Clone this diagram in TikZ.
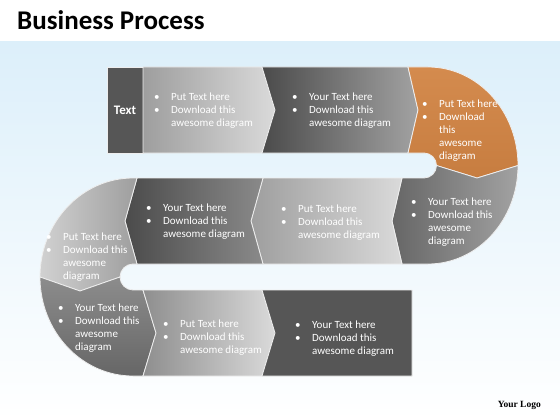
\documentclass[tikz,border=0pt]{standalone}
\usepackage{fontspec}
\setmainfont{Carlito}
\newfontfamily\logofont{Liberation Serif}
\usetikzlibrary{positioning}
\definecolor{skyband}{HTML}{DCEFFA}
\definecolor{segedge}{HTML}{EEEEEE}
\definecolor{boxgrey}{HTML}{565656}
\definecolor{greylo}{HTML}{9E9E9E}
\definecolor{greyhi}{HTML}{DADADA}
\definecolor{darklo}{HTML}{4B4B4B}
\definecolor{darkhi}{HTML}{A2A2A2}
\definecolor{orangehi}{HTML}{D48B4E}
\definecolor{orangelo}{HTML}{C77D40}
\newcommand{\blist}[1]{\begin{tabular}{@{}p{17pt}@{}l@{}}#1\end{tabular}}

\begin{document}
\begin{tikzpicture}[
      x=1pt, y=-1pt,
      seg/.style={
        draw=segedge,
        line width=0.8pt,
        line join=round,
      },
      txt/.style={
        anchor=north west,
        inner sep=0pt,
        text=white,
        font=\fontsize{11}{13}\selectfont,
      }]
      \useasboundingbox (0,0) rectangle (560,420);
      \fill[white] (0,0) rectangle (560,42);
      \shade[top color=skyband, bottom color=white] (0,42) rectangle (560,420);
      \node[anchor=base west, inner sep=0pt, font=\bfseries\fontsize{27}{30}\selectfont] (title) at (17,30) {Business Process};
      % top row
      \filldraw[seg, fill=boxgrey] (107,67) rectangle (143,153);
      \shade[seg, left color=greylo, right color=greyhi] (143,67) -- (262,67) -- (275,110) -- (262,153) -- (143,153) -- cycle;
      \shade[seg, left color=darklo, right color=darkhi] (262,67) -- (408,67) -- (418,110) -- (408,153) -- (262,153) -- (275,110) -- cycle;
      \shade[seg, top color=orangehi, bottom color=orangelo] (408,67) -- (418,110) -- (408,153) -- (424,153)
        arc[start angle=-90, end angle=0, radius=12.5] -- (477,178) -- (518,165.5)
        arc[start angle=0, end angle=-90, x radius=90, y radius=98.5] -- cycle;
      % middle row
      \shade[seg, left color=darklo!85!white, right color=darkhi] (402,178) -- (392,221) -- (402,264) -- (428,264)
        arc[start angle=90, end angle=0, x radius=90, y radius=98.5] -- (477,178) -- (436.5,165.5)
        arc[start angle=0, end angle=90, radius=12.5] -- cycle;
      \shade[seg, left color=greylo, right color=greyhi] (263,178) -- (402,178) -- (392,221) -- (402,264) -- (263,264) -- (251,221) -- cycle;
      \shade[seg, left color=darklo, right color=darkhi!85!black] (137,178) -- (263,178) -- (251,221) -- (263,264) -- (137,264) -- (125,221) -- cycle;
      \shade[seg, left color=greyhi!85!greylo, right color=greylo] (137,178) -- (125,221) -- (137,264) -- (133,264)
        arc[start angle=-90, end angle=-180, radius=13] -- (80,291) -- (40,277)
        arc[start angle=180, end angle=270, x radius=93, y radius=99] -- cycle;
      % bottom row
      \shade[seg, top color=darkhi!75!darklo, bottom color=darklo!85!white] (143,290) -- (156,333) -- (143,376) -- (133,376)
        arc[start angle=90, end angle=180, x radius=93, y radius=99] -- (80,291) -- (120,277)
        arc[start angle=180, end angle=90, radius=13] -- cycle;
      \shade[seg, left color=greylo!90!black, right color=greyhi] (143,290) -- (262,290) -- (275,333) -- (262,376) -- (143,376) -- (156,333) -- cycle;
      \filldraw[seg, fill=boxgrey] (262,290) -- (412,290) -- (412,376) -- (262,376) -- (275,333) -- cycle;
      % texts
      \node[text=white, font=\bfseries\fontsize{13}{15}\selectfont] (head) at (125,110) {Text};
      \node[txt] (t1) at (154,91) {\blist{\textbullet & Put Text here\\ \textbullet & Download this\\ & awesome diagram}};
      \node[txt] (t2) at (292,91) {\blist{\textbullet & Your Text here\\ \textbullet & Download this\\ & awesome diagram}};
      \node[txt] (t3) at (422,98) {\blist{\textbullet & Put Text here\\ \textbullet & Download\\ & this\\ & awesome\\ & diagram}};
      \node[txt] (t4) at (411,196) {\blist{\textbullet & Your Text here\\ \textbullet & Download this\\ & awesome\\ & diagram}};
      \node[txt] (t5) at (281,203) {\blist{\textbullet & Put Text here\\ \textbullet & Download this\\ & awesome diagram}};
      \node[txt] (t6) at (146,202) {\blist{\textbullet & Your Text here\\ \textbullet & Download this\\ & awesome diagram}};
      \node[txt] (t7) at (46,231) {\blist{\textbullet & Put Text here\\ \textbullet & Download this\\ & awesome\\ & diagram}};
      \node[txt] (t8) at (58,302) {\blist{\textbullet & Your Text here\\ \textbullet & Download this\\ & awesome\\ & diagram}};
      \node[txt] (t9) at (163,318) {\blist{\textbullet & Put Text here\\ \textbullet & Download this\\ & awesome diagram}};
      \node[txt] (t10) at (295,319) {\blist{\textbullet & Your Text here\\ \textbullet & Download this\\ & awesome diagram}};
      \node[anchor=base east, inner sep=0pt, font=\logofont\bfseries\fontsize{9.5}{11}\selectfont] (logo) at (541,407) {Your Logo};
    \end{tikzpicture}
\end{document}
